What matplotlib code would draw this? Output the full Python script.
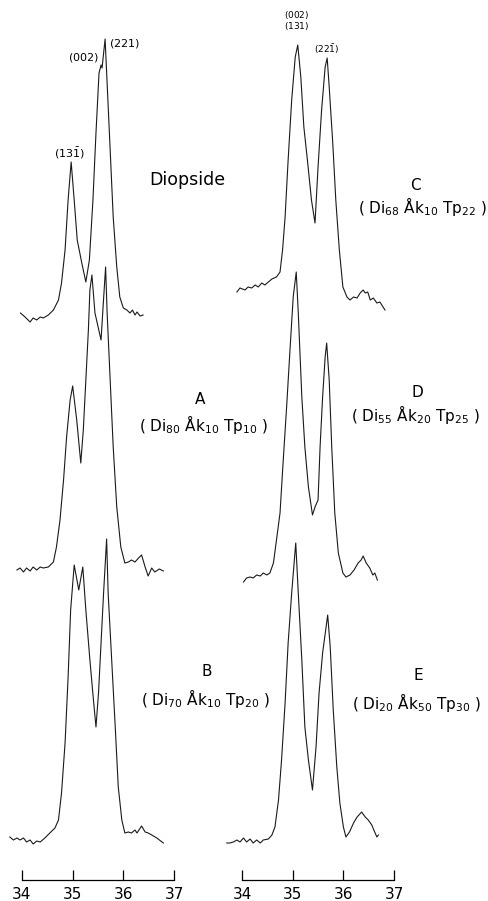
import numpy as np
import matplotlib.pyplot as plt

plt.rcParams['font.family'] = ['DejaVu Sans']
plt.rcParams['mathtext.fontset'] = 'dejavusans'

# 2theta (deg) and intensity (arb. units)
di_tt = [33.97, 34.06, 34.16, 34.22, 34.29, 34.36, 34.42, 34.52, 34.62, 34.72, 34.78, 34.85,
         34.91, 34.97, 35.03, 35.09, 35.18, 35.26, 35.33, 35.40, 35.46, 35.52, 35.56, 35.58,
         35.64, 35.68, 35.74, 35.80, 35.87, 35.93, 36.00, 36.07, 36.13, 36.18, 36.23, 36.27,
         36.33, 36.39]
di_i = [2, -2, -7, -3, -5, -2, -3, 0, 5, 15, 32, 65,
        115, 153, 115, 75, 52, 33, 55, 115, 182, 242, 250, 247,
        276, 232, 165, 98, 48, 18, 7, 5, 2, 5, 0, 3,
        -1, 0]

a_tt = [33.90, 33.96, 34.03, 34.09, 34.16, 34.22, 34.29, 34.36, 34.42, 34.52, 34.62, 34.68,
        34.75, 34.82, 34.88, 34.95, 35.00, 35.08, 35.16, 35.21, 35.26, 35.31, 35.34, 35.38,
        35.44, 35.56, 35.60, 35.65, 35.68, 35.74, 35.80, 35.87, 35.95, 36.03, 36.10, 36.16,
        36.23, 36.30, 36.36, 36.43, 36.49, 36.56, 36.62, 36.71, 36.79]
a_i = [-2, 0, -4, 0, -3, 1, -2, 1, 0, 1, 6, 21,
       48, 88, 131, 168, 182, 148, 105, 138, 188, 238, 278, 293,
       255, 228, 261, 301, 255, 188, 121, 61, 21, 5, 6, 8,
       6, 10, 13, 1, -8, 0, -4, -1, -3]

b_tt = [33.76, 33.83, 33.90, 33.96, 34.03, 34.09, 34.16, 34.22, 34.29, 34.36, 34.45, 34.55,
        34.65, 34.72, 34.78, 34.85, 34.91, 34.96, 35.03, 35.12, 35.20, 35.26, 35.34, 35.41,
        35.46, 35.51, 35.56, 35.61, 35.67, 35.70, 35.77, 35.84, 35.90, 35.97, 36.03, 36.10,
        36.16, 36.23, 36.27, 36.36, 36.43, 36.49, 36.56, 36.66, 36.79]
b_i = [-1, -4, -2, -4, -2, -6, -4, -8, -5, -6, -2, 3,
       8, 16, 43, 93, 159, 226, 271, 246, 269, 226, 176, 136,
       109, 143, 193, 243, 297, 243, 176, 109, 49, 16, 3, 4,
       3, 6, 3, 10, 4, 3, 1, -2, -7]

c_tt = [33.90, 33.96, 34.06, 34.12, 34.19, 34.26, 34.32, 34.39, 34.45, 34.52, 34.59, 34.68,
        34.75, 34.80, 34.85, 34.91, 34.98, 35.05, 35.10, 35.16, 35.22, 35.29, 35.37, 35.44,
        35.50, 35.57, 35.64, 35.68, 35.72, 35.79, 35.85, 35.92, 35.99, 36.07, 36.13, 36.20,
        36.27, 36.33, 36.39, 36.43, 36.48, 36.53, 36.59, 36.66, 36.72, 36.82]
c_i = [-2, 2, 0, 3, 2, 5, 3, 7, 5, 8, 11, 13,
       18, 40, 73, 130, 190, 233, 245, 213, 163, 130, 90, 67,
       123, 180, 223, 232, 203, 147, 90, 40, 3, -7, -10, -7,
       -8, -3, 0, -3, -2, -10, -8, -13, -12, -20]

d_tt = [34.03, 34.09, 34.16, 34.22, 34.29, 34.36, 34.42, 34.49, 34.55, 34.62, 34.68, 34.75,
        34.81, 34.88, 34.95, 35.01, 35.07, 35.11, 35.18, 35.24, 35.31, 35.39, 35.44, 35.50,
        35.54, 35.59, 35.64, 35.67, 35.72, 35.77, 35.83, 35.90, 35.99, 36.05, 36.13, 36.21,
        36.29, 36.35, 36.39, 36.45, 36.52, 36.58, 36.62, 36.67]
d_i = [-7, -3, -2, -3, 0, -1, 2, 0, 2, 12, 35, 62,
       112, 168, 228, 278, 303, 262, 178, 128, 88, 60, 68, 75,
       128, 178, 218, 232, 195, 128, 62, 22, 2, -2, 0, 5,
       12, 15, 19, 12, 7, 0, 2, -5]

e_tt = [33.70, 33.76, 33.83, 33.90, 33.96, 34.03, 34.09, 34.16, 34.22, 34.29, 34.36, 34.42,
        34.52, 34.59, 34.65, 34.72, 34.78, 34.85, 34.91, 34.98, 35.06, 35.11, 35.18, 35.24,
        35.31, 35.39, 35.46, 35.52, 35.59, 35.69, 35.74, 35.80, 35.87, 35.93, 36.00, 36.05,
        36.12, 36.20, 36.27, 36.36, 36.43, 36.49, 36.56, 36.60, 36.66, 36.69]
e_i = [-3, -3, -2, 0, -2, 2, -2, 1, -3, 0, -3, 0,
       1, 5, 13, 40, 80, 137, 197, 247, 297, 247, 180, 113,
       80, 50, 93, 147, 187, 225, 193, 130, 73, 37, 13, 3,
       8, 17, 23, 28, 23, 20, 15, 10, 3, 5]

ticks = [34, 35, 36, 37]

W, H = 489, 901
fig = plt.figure(figsize=(W / 100, H / 100), dpi=100)


def px(x, y):
    return x / W, 1 - y / H


def column_axes(x34, ppd, left_px, right_px):
    # x34: pixel of 34 deg, ppd: pixels per degree
    ax = fig.add_axes([left_px / W, 0, (right_px - left_px) / W, 1])
    ax.set_xlim(34 + (left_px - x34) / ppd, 34 + (right_px - x34) / ppd)
    ax.set_ylim(0, H)
    ax.patch.set_alpha(0)
    for side in ['left', 'right', 'top']:
        ax.spines[side].set_visible(False)
    ax.spines['bottom'].set_position(('data', H - 880))
    ax.spines['bottom'].set_bounds(ticks[0], ticks[-1])
    ax.spines['bottom'].set_linewidth(0.9)
    ax.set_xticks(ticks)
    ax.tick_params(axis='x', direction='in', length=7, width=0.9, pad=5, labelsize=11)
    ax.set_yticks([])
    return ax


axl = column_axes(22, 50.67, 0, 250)
axr = column_axes(242, 50.7, 200, 489)

lc = '#1a1a1a'
lw = 0.8
axl.plot(di_tt, np.array(di_i) + (H - 315), color=lc, lw=lw)
axl.plot(a_tt, np.array(a_i) + (H - 568), color=lc, lw=lw)
axl.plot(b_tt, np.array(b_i) + (H - 836), color=lc, lw=lw)
axr.plot(c_tt, np.array(c_i) + (H - 290), color=lc, lw=lw)
axr.plot(d_tt, np.array(d_i) + (H - 575), color=lc, lw=lw)
axr.plot(e_tt, np.array(e_i) + (H - 840), color=lc, lw=lw)

# reflection labels
hkl = dict(fontsize=8, ha='center', va='center')
fig.text(*px(70, 153), r'$\mathrm{(13\bar{1})}$', **hkl)
fig.text(*px(84, 58), r'$\mathrm{(002)}$', **hkl)
fig.text(*px(125, 43), r'$\mathrm{(221)}$', **hkl)
hkl_c = dict(fontsize=6.5, ha='center', va='center')
fig.text(*px(297, 15), r'$\mathrm{(002)}$', **hkl_c)
fig.text(*px(297, 26), r'$\mathrm{(131)}$', **hkl_c)
fig.text(*px(327, 49), r'$\mathrm{(22\bar{1})}$', **hkl_c)

# sample labels
lab = dict(fontsize=11, ha='center', va='center')
fig.text(*px(187, 180), 'Diopside', fontsize=12.5, ha='center', va='center')
fig.text(*px(200, 399), 'A', **lab)
fig.text(*px(203, 424), r'( Di$_{80}$ Åk$_{10}$ Tp$_{10}$ )', **lab)
fig.text(*px(207, 672), 'B', **lab)
fig.text(*px(205, 698), r'( Di$_{70}$ Åk$_{10}$ Tp$_{20}$ )', **lab)
fig.text(*px(415, 186), 'C', **lab)
fig.text(*px(422, 207), r'( Di$_{68}$ Åk$_{10}$ Tp$_{22}$ )', **lab)
fig.text(*px(417, 393), 'D', **lab)
fig.text(*px(415, 414), r'( Di$_{55}$ Åk$_{20}$ Tp$_{25}$ )', **lab)
fig.text(*px(418, 676), 'E', **lab)
fig.text(*px(416, 703), r'( Di$_{20}$ Åk$_{50}$ Tp$_{30}$ )', **lab)

fig.savefig('out.png', dpi=100)
